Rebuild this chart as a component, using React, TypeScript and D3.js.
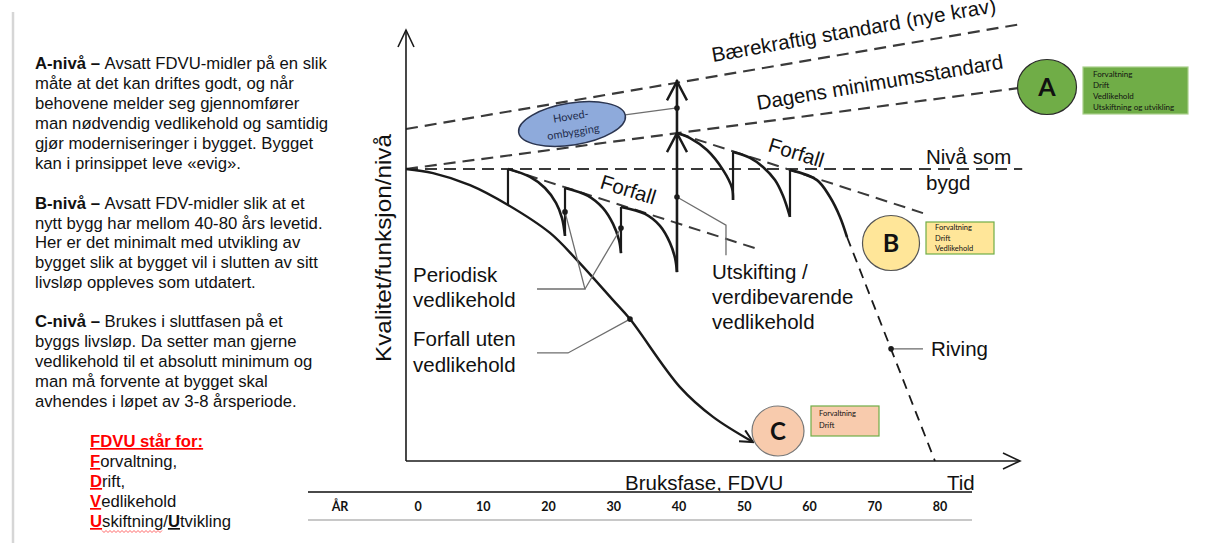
import React from 'react';
import * as d3 from 'd3';

// ---------- data (t = year, v = quality level; 100 = "Nivå som bygd") ----------
const yearTicks = [0, 10, 20, 30, 40, 50, 60, 70, 80];
const tableHeader = 'ÅR';
const axisStartT = -1.84;
const axisEndT = 92.26;
const axisTopV = 147.6;

const levelBuilt: [number, number][] = [[-1.84, 100], [92.6, 100]];
const levelToday: [number, number][] = [[-1.84, 100], [91.95, 127.7]];
const levelSustainable: [number, number][] = [[-1.84, 113.7], [92.6, 149.7]];

const decayNoMaintenance: [number, number][] = [
  [-1.84, 100], [2.3, 98.6], [7.97, 94.5], [13.79, 87.7], [20.23, 78.1], [24.37, 68.8],
  [29.89, 55.1], [32.49, 48.6], [40.15, 25.3], [45.21, 15.1], [51.34, 6.5],
];

const periodicB: [number, number][][] = [
  [[13.79, 100], [17.16, 97.3], [19.46, 93.5], [21.15, 88.4], [22.07, 83.2], [22.53, 77.1]],
  [[22.53, 93.5], [26.05, 90.8], [28.35, 86.6], [29.89, 81.2], [30.8, 75.7], [31.11, 71.2]],
  [[31.11, 87.0], [34.79, 84.6], [37.09, 80.5], [38.62, 74.7], [39.39, 69.5], [39.69, 64.7]],
];
const periodicA: [number, number][][] = [
  [[39.69, 112.3], [41.69, 110.6], [44.29, 106.5], [46.74, 99.7], [48.12, 93.5], [48.28, 89.4]],
  [[48.28, 105.8], [50.88, 103.8], [52.87, 100.7], [54.71, 96.2], [55.94, 90.8], [57.01, 83.6]],
  [[57.01, 99.7], [61.15, 96.2], [63.14, 90.4], [64.67, 83.6], [65.75, 76.7]],
];
// [t, from v, to v]
const maintenanceJumps: [number, number, number][] = [
  [13.79, 87.7, 100], [22.53, 77.1, 93.5], [31.11, 71.2, 87.0], [48.28, 89.4, 105.8], [57.01, 83.6, 99.7],
];
const renovation: [number, number, number] = [39.69, 64.7, 130.5];
const renovationArrowTips = [112.3, 130.0];
const decayTrendB: [number, number][] = [[13.79, 100], [51.65, 72.9]];
const decayTrendA: [number, number][] = [[39.69, 112.3], [77.39, 84.9]];
const demolition: [number, number][] = [[65.75, 76.7], [79.23, 0]];

const dots: [number, number][] = [
  [22.53, 85.3], [31.11, 79.8], [32.49, 48.6], [39.69, 120.9], [39.69, 90.4], [72.5, 38.4],
];
const leaders: [number, number][][] = [
  [[18.24, 58.9], [25.59, 58.9], [22.53, 85.3]],
  [[25.59, 58.9], [31.11, 79.8]],
  [[18.24, 37.0], [22.99, 37.0], [32.49, 48.6]],
  [[31.72, 118.5], [39.69, 120.9]],
  [[39.69, 90.4], [47.2, 80.8], [47.2, 70.5]],
  [[72.5, 38.4], [77.39, 38.4]],
];

const textA = [
  ['A-nivå – ', 'Avsatt FDVU-midler på en slik'],
  ['', 'måte at det kan driftes godt, og når'],
  ['', 'behovene melder seg gjennomfører'],
  ['', 'man nødvendig vedlikehold og samtidig'],
  ['', 'gjør moderniseringer i bygget. Bygget'],
  ['', 'kan i prinsippet leve «evig».'],
];
const textB = [
  ['B-nivå – ', 'Avsatt FDV-midler slik at et'],
  ['', 'nytt bygg har mellom 40-80 års levetid.'],
  ['', 'Her er det minimalt med utvikling av'],
  ['', 'bygget slik at bygget vil i slutten av sitt'],
  ['', 'livsløp oppleves som utdatert.'],
];
const textC = [
  ['C-nivå – ', 'Brukes i sluttfasen på et'],
  ['', 'byggs livsløp. Da setter man gjerne'],
  ['', 'vedlikehold til et absolutt minimum og'],
  ['', 'man må forvente at bygget skal'],
  ['', 'avhendes i løpet av 3-8 årsperiode.'],
];
const fdvuTitle = 'FDVU står for:';
const fdvuItems = [['F', 'orvaltning,'], ['D', 'rift,'], ['V', 'edlikehold']];

const boxA = ['Forvaltning', 'Drift', 'Vedlikehold', 'Utskiftning og utvikling'];
const boxB = ['Forvaltning', 'Drift', 'Vedlikehold'];
const boxC = ['Forvaltning', 'Drift'];

// ---------- scales ----------
const x = d3.scaleLinear().domain([0, 80]).range([418, 940]);
const y = d3.scaleLinear().domain([0, 100]).range([461, 169]);

const smooth = d3.line<[number, number]>().x(d => x(d[0])).y(d => y(d[1])).curve(d3.curveCatmullRom.alpha(0.5));
const straight = d3.line<[number, number]>().x(d => x(d[0])).y(d => y(d[1]));

const SANS = 'Liberation Sans, Arial, sans-serif';
const SMALL = 'Lato, Open Sans, sans-serif';
const INK = '#1a1a1a';
const DASH = '#3a3a3a';
const PFONT = 16.7;

function Para({ lines, x0, y0, lh }: { lines: string[][]; x0: number; y0: number; lh: number }) {
  return (
    <g>
      {lines.map((l, i) => (
        <text key={i} x={x0} y={y0 + i * lh} fontSize={PFONT} fontFamily={SANS} fill="#111">
          {l[0] && <tspan fontWeight="bold">{l[0]}</tspan>}
          <tspan>{l[1]}</tspan>
        </text>
      ))}
    </g>
  );
}

export default function App() {
  const ax = x(axisStartT);
  const ay = y(0);
  const ayTop = y(axisTopV);
  const axRight = x(axisEndT);
  const chevUp = (tx: number, ty: number) => `M${tx - 10},${ty + 19}L${tx},${ty}L${tx + 10},${ty + 19}`;

  return (
    <div style={{ position: 'absolute', left: 0, top: 0 }}>
      <svg width={1206} height={543} style={{ display: 'block', background: '#fff' }}>
        <defs>
          <marker id="arr" viewBox="0 0 12 12" refX={11} refY={6} markerWidth={15} markerHeight={15} markerUnits="userSpaceOnUse" orient="auto">
            <path d="M1,1L11,6L1,11" fill="none" stroke={INK} strokeWidth={1.6} />
          </marker>
        </defs>

        {/* left panel */}
        <line x1={13} y1={12} x2={13} y2={543} stroke="#d6d6d6" strokeWidth={2.5} />
        <Para lines={textA} x0={35} y0={69} lh={20} />
        <Para lines={textB} x0={35} y0={209} lh={19.7} />
        <Para lines={textC} x0={35} y0={327} lh={20} />
        <text x={90} y={447} fontSize={PFONT} fontFamily={SANS} fontWeight="bold" fill="#ff0000" textDecoration="underline">{fdvuTitle}</text>
        {fdvuItems.map((it, i) => (
          <text key={i} x={90} y={467 + i * 20} fontSize={PFONT} fontFamily={SANS} fill="#111">
            <tspan fontWeight="bold" fill="#ff0000" textDecoration="underline">{it[0]}</tspan>
            <tspan>{it[1]}</tspan>
          </text>
        ))}
        <text x={90} y={527} fontSize={PFONT} fontFamily={SANS} fill="#111">
          <tspan fontWeight="bold" fill="#ff0000" textDecoration="underline">U</tspan>
          <tspan>skiftning/</tspan>
          <tspan fontWeight="bold" textDecoration="underline">U</tspan>
          <tspan>tvikling</tspan>
        </text>
        <path
          d={d3.range(0, 31).map(i => `${i === 0 ? 'M' : 'L'}${102 + i * 2},${i % 2 ? 532.5 : 530.5}`).join('')}
          fill="none" stroke="#ff4040" strokeWidth={0.8}
        />

        {/* reference levels */}
        <path d={straight(levelSustainable)!} fill="none" stroke={DASH} strokeWidth={2.2} strokeDasharray="12,7" />
        <path d={straight(levelToday)!} fill="none" stroke={DASH} strokeWidth={2.2} strokeDasharray="12,7" />
        <path d={straight(levelBuilt)!} fill="none" stroke={DASH} strokeWidth={2.2} strokeDasharray="12,7" />
        <path d={straight(decayTrendB)!} fill="none" stroke={DASH} strokeWidth={2} strokeDasharray="12,7" />
        <path d={straight(decayTrendA)!} fill="none" stroke={DASH} strokeWidth={2} strokeDasharray="12,7" />
        <path d={straight(demolition)!} fill="none" stroke={INK} strokeWidth={1.8} strokeDasharray="10,7" />

        {/* axes */}
        <line x1={ax} y1={ay} x2={ax} y2={ayTop} stroke={INK} strokeWidth={1.6} />
        <path d={`M${ax - 8},${ayTop + 17}L${ax},${ayTop}L${ax + 8},${ayTop + 17}`} fill="none" stroke={INK} strokeWidth={1.6} />
        <line x1={ax} y1={ay} x2={axRight} y2={ay} stroke={INK} strokeWidth={1.6} />
        <path d={`M${axRight - 17},${ay - 8}L${axRight},${ay}L${axRight - 17},${ay + 8}`} fill="none" stroke={INK} strokeWidth={1.6} />

        {/* curves */}
        <path d={smooth(decayNoMaintenance)!} fill="none" stroke={INK} strokeWidth={2.4} markerEnd="url(#arr)" />
        {[...periodicB, ...periodicA].map((seg, i) => (
          <path key={i} d={smooth(seg)!} fill="none" stroke={INK} strokeWidth={2.6} />
        ))}
        {maintenanceJumps.map((j, i) => (
          <line key={i} x1={x(j[0])} x2={x(j[0])} y1={y(j[1])} y2={y(j[2])} stroke={INK} strokeWidth={2.2} />
        ))}
        <line x1={x(renovation[0])} x2={x(renovation[0])} y1={y(renovation[1])} y2={y(renovation[2])} stroke={INK} strokeWidth={2.6} />
        {renovationArrowTips.map((v, i) => (
          <path key={i} d={chevUp(x(renovation[0]), y(v))} fill="none" stroke={INK} strokeWidth={2.4} />
        ))}

        {/* leaders + dots */}
        {leaders.map((l, i) => (
          <path key={i} d={straight(l)!} fill="none" stroke="#6e6e6e" strokeWidth={1.3} />
        ))}
        {dots.map((d, i) => (
          <circle key={i} cx={x(d[0])} cy={y(d[1])} r={2.8} fill={INK} />
        ))}

        {/* Hovedombygging */}
        <g transform="translate(572,124) rotate(-9)">
          <ellipse cx={0} cy={0} rx={54} ry={21} fill="#8eaadb" stroke="#2b3550" strokeWidth={1.5} />
          <text x={0} y={-4} textAnchor="middle" fontSize={11} fontFamily={SMALL} fill="#1f2d4d">Hoved-</text>
          <text x={0} y={12} textAnchor="middle" fontSize={11} fontFamily={SMALL} fill="#1f2d4d">ombygging</text>
        </g>

        {/* diagram labels */}
        <g fontFamily={SANS} fontSize={20.5} fill="#111">
          <text transform="translate(713,62) rotate(-10)">Bærekraftig standard (nye krav)</text>
          <text transform="translate(758,110) rotate(-9.6)">Dagens minimumsstandard</text>
          <text transform="translate(599,188) rotate(17)">Forfall</text>
          <text transform="translate(767,151) rotate(17)">Forfall</text>
          <text x={926} y={164}>Nivå som</text>
          <text x={926} y={190}>bygd</text>
          <text x={413} y={282}>Periodisk</text>
          <text x={413} y={307}>vedlikehold</text>
          <text x={413} y={346}>Forfall uten</text>
          <text x={413} y={372}>vedlikehold</text>
          <text x={712} y={279}>Utskifting /</text>
          <text x={712} y={304}>verdibevarende</text>
          <text x={712} y={329}>vedlikehold</text>
          <text x={931} y={356}>Riving</text>
          <text transform="translate(391,248) rotate(-90)" textAnchor="middle" fontSize={22} textLength={228} lengthAdjust="spacingAndGlyphs">Kvalitet/funksjon/nivå</text>
          <text x={625} y={490}>Bruksfase, FDVU</text>
          <text x={947} y={490}>Tid</text>
        </g>

        {/* level markers */}
        <ellipse cx={1047} cy={87} rx={29.5} ry={27.5} fill="#70ad47" stroke="#2a2a2a" strokeWidth={1.2} />
        <text x={1047} y={96} textAnchor="middle" fontSize={25} fontWeight="bold" fontFamily={SMALL} fill="#111">A</text>
        <rect x={1083} y={67} width={105} height={47} fill="#70ad47" stroke="#a8cf8a" strokeWidth={1.2} />
        {boxA.map((t, i) => (
          <text key={i} x={1093} y={77 + i * 11} fontSize={8} fontFamily={SMALL} fill="#111">{t}</text>
        ))}

        <ellipse cx={891} cy={243} rx={28.5} ry={27.5} fill="#ffe699" stroke="#555" strokeWidth={1.2} />
        <text x={891} y={252} textAnchor="middle" fontSize={25} fontWeight="bold" fontFamily={SMALL} fill="#111">B</text>
        <rect x={926} y={222} width={68} height={32} fill="#ffe699" stroke="#70ad47" strokeWidth={1.2} />
        {boxB.map((t, i) => (
          <text key={i} x={935} y={230 + i * 10.5} fontSize={7.5} fontFamily={SMALL} fill="#111">{t}</text>
        ))}

        <ellipse cx={778} cy={431} rx={26} ry={25} fill="#f8cbad" stroke="#777" strokeWidth={1.2} />
        <text x={778} y={440} textAnchor="middle" fontSize={24} fontWeight="bold" fontFamily={SMALL} fill="#111">C</text>
        <rect x={811} y={406} width={68} height={30} fill="#f8cbad" stroke="#70ad47" strokeWidth={1.2} />
        {boxC.map((t, i) => (
          <text key={i} x={819} y={416 + i * 12} fontSize={7.5} fontFamily={SMALL} fill="#111">{t}</text>
        ))}

        {/* year table */}
        <line x1={308} x2={972} y1={492} y2={492} stroke="#4a4a4a" strokeWidth={1.8} />
        <line x1={308} x2={972} y1={520} y2={520} stroke="#c8c8c8" strokeWidth={1.8} />
        <text x={340} y={511} textAnchor="middle" fontSize={12.5} fontWeight="bold" fontFamily={SMALL} fill="#111">{tableHeader}</text>
        {yearTicks.map(t => (
          <text key={t} x={x(t)} y={511} textAnchor="middle" fontSize={12.5} fontWeight="bold" fontFamily={SMALL} fill="#111">{t}</text>
        ))}
      </svg>
    </div>
  );
}
